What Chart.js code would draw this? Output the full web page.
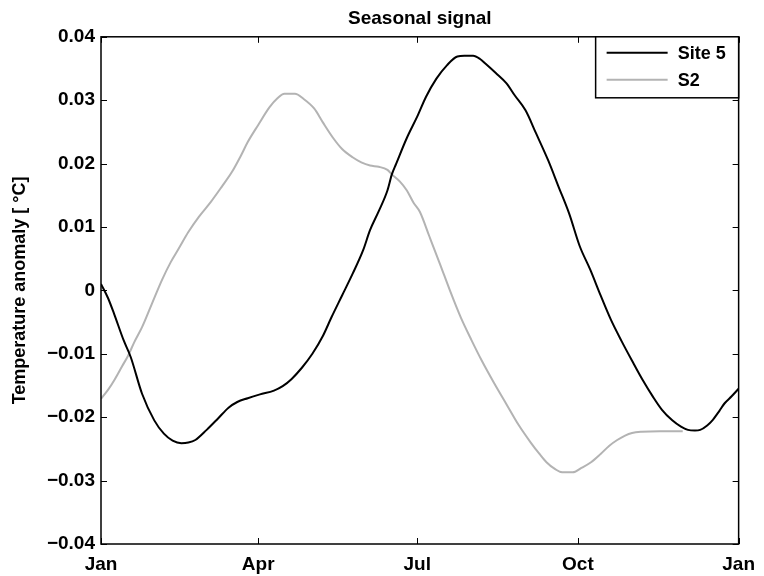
<!DOCTYPE html>
<html>
<head>
<meta charset="utf-8">
<script src="https://cdn.jsdelivr.net/npm/chart.js@4.4.0/dist/chart.umd.min.js"></script>
<style>
  html, body { margin: 0; padding: 0; background: #fff; }
</style>
</head>
<body>
<canvas id="seasonal" width="764" height="576"></canvas>
<script>
/* ─── Data (day of year, anomaly in °C) ─────────── */
const SITE5_DAYS = [0, 4, 7.5, 13, 17, 23.5, 30.5, 36, 41, 46, 50, 54, 60.5, 67, 73, 78, 84, 91, 99, 104,
  109, 115, 121, 127, 132, 138, 144, 150, 154, 159, 164, 166.5, 169, 175, 181, 186, 192, 198, 204, 208,
  213, 217, 220, 226, 232, 237, 243, 249, 256, 262, 268, 274, 280, 286, 292, 298, 304, 310, 316, 321,
  327, 332, 336, 340, 343, 347, 350, 354, 357, 361, 365];
const SITE5_VALS = [0.0010, -0.0012, -0.0037, -0.0079, -0.0105, -0.0163, -0.0205, -0.0226, -0.0237, -0.0241,
  -0.0240, -0.0236, -0.0220, -0.0202, -0.0185, -0.0176, -0.0170, -0.0164, -0.0158, -0.0151,
  -0.0140, -0.0122, -0.0100, -0.0072, -0.0042, -0.0008, 0.0026, 0.0063, 0.0095, 0.0125, 0.0158, 0.0183,
  0.0200, 0.0240, 0.0274, 0.0305, 0.0334, 0.0355, 0.0369, 0.0370, 0.0370, 0.0365, 0.0358, 0.0343,
  0.0327, 0.0307, 0.0284, 0.0248, 0.0205, 0.0163, 0.0121, 0.0070, 0.0033, -0.0008, -0.0047, -0.0080,
  -0.0111, -0.0141, -0.0168, -0.0188, -0.0205, -0.0215, -0.0220, -0.0221, -0.0220, -0.0213, -0.0205,
  -0.0190, -0.0178, -0.0167, -0.0155];

const S2_DAYS = [0, 4, 7.5, 12, 15.5, 19, 23.5, 29, 35, 40, 44.5, 50, 56, 63, 69, 75, 80, 84, 90, 96.5,
  101, 105, 111, 116, 122, 127, 133, 138, 144, 149, 154, 159, 164, 166.5, 171, 175, 179, 182.5, 188,
  194, 200, 206, 212, 218, 225, 232, 239, 246, 251, 255, 260, 264, 270, 275, 280.5, 286, 291, 295.5,
  300, 304, 309.5, 320, 333];
const S2_VALS = [-0.0171, -0.0157, -0.0142, -0.0120, -0.0103, -0.0082, -0.0058, -0.0022, 0.0017, 0.0045,
  0.0066, 0.0092, 0.0116, 0.0140, 0.0163, 0.0187, 0.0212, 0.0234, 0.0261, 0.0289,
  0.0303, 0.0310, 0.0310, 0.0302, 0.0287, 0.0265, 0.0240, 0.0223, 0.0210, 0.0202, 0.0197, 0.0195,
  0.0190, 0.0183, 0.0172, 0.0158, 0.0138, 0.0124, 0.0085, 0.0042, -0.0002, -0.0043, -0.0078, -0.0111,
  -0.0146, -0.0179, -0.0212, -0.0240, -0.0258, -0.0271, -0.0282, -0.0287, -0.0287, -0.0280, -0.0271,
  -0.0258, -0.0245, -0.0236, -0.0229, -0.0225, -0.0223, -0.0222, -0.0222];

const X_TICK_DAYS   = [0, 90, 181, 273, 365];
const X_TICK_LABELS = ['Jan', 'Apr', 'Jul', 'Oct', 'Jan'];
const Y_TICKS       = [-0.04, -0.03, -0.02, -0.01, 0, 0.01, 0.02, 0.03, 0.04];
const Y_TICK_LABELS = ['\u22120.04', '\u22120.03', '\u22120.02', '\u22120.01', '0', '0.01', '0.02', '0.03', '0.04'];

/* ─── Style ─────────────────────────────────────── */
const FONT     = 'Liberation Sans, Arial, Helvetica, sans-serif';
const TICK_LEN = 6;

function toPoints(days, vals) {
  return days.map((d, i) => ({ x: d, y: vals[i] }));
}

/* ─── Plugins: boxed axes with inward ticks, legend ─ */
const axesBox = {
  id: 'axesBox',
  afterDatasetsDraw(chart) {
    const { ctx, chartArea: a, scales: { x, y } } = chart;
    ctx.save();
    ctx.strokeStyle = '#000';
    ctx.lineWidth = 1;
    ctx.beginPath();
    x.ticks.forEach(t => {
      const px = Math.round(x.getPixelForValue(t.value)) + 0.5;
      ctx.moveTo(px, a.bottom); ctx.lineTo(px, a.bottom - TICK_LEN);
      ctx.moveTo(px, a.top);    ctx.lineTo(px, a.top + TICK_LEN);
    });
    y.ticks.forEach(t => {
      const py = Math.round(y.getPixelForValue(t.value)) + 0.5;
      ctx.moveTo(a.left, py);  ctx.lineTo(a.left + TICK_LEN, py);
      ctx.moveTo(a.right, py); ctx.lineTo(a.right - TICK_LEN, py);
    });
    ctx.stroke();
    ctx.lineWidth = 1.5;
    ctx.strokeRect(a.left, a.top, a.right - a.left, a.bottom - a.top);
    ctx.restore();
  }
};

const boxLegend = {
  id: 'boxLegend',
  afterDraw(chart) {
    const { ctx, chartArea: a } = chart;
    const w = 143, h = 61;
    const left = a.right - w, top = a.top;
    ctx.save();
    ctx.fillStyle = '#fff';
    ctx.fillRect(left, top, w, h);
    ctx.strokeStyle = '#000';
    ctx.lineWidth = 1.5;
    ctx.strokeRect(left, top, w, h);
    ctx.font = 'bold 18px ' + FONT;
    ctx.textBaseline = 'middle';
    chart.data.datasets.forEach((ds, i) => {
      const cy = top + 16 + i * 27;
      ctx.strokeStyle = ds.borderColor;
      ctx.lineWidth = ds.borderWidth;
      ctx.beginPath();
      ctx.moveTo(left + 11, cy);
      ctx.lineTo(left + 72, cy);
      ctx.stroke();
      ctx.fillStyle = '#000';
      ctx.fillText(ds.label, left + 82, cy + 1);
    });
    ctx.restore();
  }
};

/* ─── Chart ─────────────────────────────────────── */
new Chart(document.getElementById('seasonal'), {
  type: 'line',
  data: {
    datasets: [
      {
        label: 'Site 5',
        data: toPoints(SITE5_DAYS, SITE5_VALS),
        borderColor: '#000000',
        borderWidth: 2,
        pointRadius: 0,
        cubicInterpolationMode: 'monotone',
      },
      {
        label: 'S2',
        data: toPoints(S2_DAYS, S2_VALS),
        borderColor: '#b3b3b3',
        borderWidth: 2,
        pointRadius: 0,
        cubicInterpolationMode: 'monotone',
      },
    ],
  },
  options: {
    responsive: false,
    animation: false,
    layout: { padding: { right: 19 } },
    plugins: {
      legend: { display: false },
      tooltip: { enabled: false },
      title: {
        display: true,
        text: 'Seasonal signal',
        fullSize: false,
        color: '#000',
        font: { family: FONT, size: 19, weight: 'bold' },
        padding: { top: 7, bottom: 7 },
      },
    },
    scales: {
      x: {
        type: 'linear',
        min: 0,
        max: 365,
        afterBuildTicks: s => { s.ticks = X_TICK_DAYS.map(v => ({ value: v })); },
        afterFit: s => { s.height = 32; },
        grid: { display: false, drawTicks: false },
        border: { display: false },
        ticks: {
          autoSkip: false,
          maxRotation: 0,
          padding: 9,
          color: '#000',
          font: { family: FONT, size: 19, weight: 'bold' },
          callback: (v, i) => X_TICK_LABELS[i],
        },
      },
      y: {
        min: -0.04,
        max: 0.04,
        afterBuildTicks: s => { s.ticks = Y_TICKS.map(v => ({ value: v })); },
        afterFit: s => { s.width = 101; },
        grid: { display: false, drawTicks: false },
        border: { display: false },
        title: {
          display: true,
          text: 'Temperature anomaly [ \u00B0C]',
          color: '#000',
          font: { family: FONT, size: 18, weight: 'bold' },
          padding: { top: 9, bottom: 0 },
        },
        ticks: {
          padding: 6,
          color: '#000',
          font: { family: FONT, size: 19, weight: 'bold' },
          callback: (v, i) => Y_TICK_LABELS[i],
        },
      },
    },
  },
  plugins: [axesBox, boxLegend],
});
</script>
</body>
</html>
